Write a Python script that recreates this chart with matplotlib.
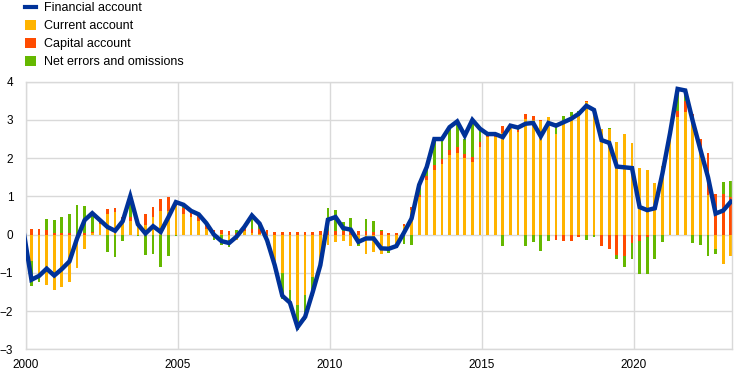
import numpy as np
import matplotlib
matplotlib.use("Agg")
import matplotlib.pyplot as plt
from matplotlib.lines import Line2D
from matplotlib.patches import Patch

plt.rcParams['font.family'] = ['Liberation Sans', 'DejaVu Sans']

# quarterly data, 2000 Q1 - 2023 Q1 (% of GDP)
current_account = [
    -0.70, -1.02, -1.32, -1.45, -1.38, -1.25, -0.87, -0.37, 0.05, 0.27,
    0.55, 0.60, 0.35, 0.35, 0.25, 0.25, 0.45, 0.62, 0.62, 0.75,
    0.55, 0.45, 0.35, 0.15, 0.05, 0.02, -0.15, -0.15, 0.10, 0.03,
    0.02, -0.05, -0.85, -1.00, -1.45, -1.84, -1.58, -1.10, -0.75, -0.28,
    -0.19, -0.17, -0.30, -0.23, -0.50, -0.45, -0.50, -0.40, -0.30, 0.22,
    0.65, 0.98, 1.42, 1.68, 1.85, 2.07, 2.13, 2.00, 1.91, 2.30,
    2.55, 2.55, 2.65, 2.78, 2.68, 3.03, 3.00, 2.98, 3.07, 2.63,
    2.90, 3.10, 3.11, 3.46, 3.30, 2.77, 2.77, 2.43, 2.63, 2.39,
    1.74, 1.68, 1.35, 1.80, 2.65, 3.07, 3.20, 2.90, 2.16, 1.03,
    -0.37, -0.76, -0.56]
capital_account = [
    0.15, 0.14, 0.12, 0.05, 0.05, 0.05, 0.02, 0.03, 0.03, 0.06,
    0.13, 0.10, 0.12, 0.10, 0.05, 0.30, 0.27, 0.32, 0.36, 0.10,
    0.15, 0.15, 0.15, 0.10, 0.08, 0.10, 0.10, 0.03, 0.08, 0.12,
    0.12, 0.12, 0.08, 0.08, 0.08, 0.08, 0.08, 0.08, 0.10, 0.10,
    0.10, 0.10, 0.08, 0.10, 0.10, 0.08, 0.10, 0.05, 0.05, 0.07,
    0.07, 0.05, 0.10, 0.13, 0.13, 0.15, 0.16, 0.12, 0.11, 0.11,
    0.04, 0.05, 0.18, 0.08, 0.06, 0.13, 0.11, 0.02, 0.01, -0.13,
    -0.17, -0.17, -0.06, 0.04, 0.02, -0.30, -0.37, -0.54, -0.57, -0.21,
    -0.17, -0.06, 0.00, 0.00, 0.00, 0.17, 0.30, 0.26, 0.35, 1.10,
    1.05, 1.07, 0.98]
errors_omissions = [
    -0.65, -0.21, 0.30, 0.32, 0.42, 0.48, 0.75, 0.72, 0.48, 0.05,
    -0.45, -0.58, -0.17, 0.55, -0.03, -0.54, -0.52, -0.86, -0.57, -0.04,
    0.08, 0.02, 0.03, 0.05, -0.13, -0.27, -0.17, 0.10, 0.02, 0.35,
    0.15, -0.22, -0.02, -0.68, -0.40, -0.66, -0.65, -0.50, -0.10, 0.60,
    0.55, 0.23, 0.35, -0.06, 0.30, 0.27, 0.03, -0.08, -0.03, -0.25,
    -0.28, 0.27, 0.25, 0.65, 0.48, 0.55, 0.65, 0.37, 0.95, 0.30,
    0.04, 0.03, -0.30, -0.02, 0.06, -0.30, -0.20, -0.43, -0.17, 0.30,
    0.19, 0.10, 0.11, -0.13, -0.05, 0.00, 0.03, -0.11, -0.29, -0.44,
    -0.86, -0.97, -0.65, -0.20, 0.00, 0.52, 0.26, -0.22, -0.28, -0.57,
    -0.15, 0.30, 0.43]
# starts one quarter earlier (1999 Q4), clipped at the left edge
financial_account = [
    0.04,
    -1.18, -1.08, -0.89, -1.07, -0.90, -0.70, -0.10, 0.38, 0.56, 0.38,
    0.20, 0.10, 0.35, 1.00, 0.27, 0.03, 0.22, 0.07, 0.45, 0.85,
    0.78, 0.62, 0.53, 0.30, 0.00, -0.17, -0.22, -0.05, 0.20, 0.50,
    0.29, -0.15, -0.80, -1.60, -1.78, -2.42, -2.15, -1.50, -0.80, 0.39,
    0.46, 0.17, 0.13, -0.19, -0.10, -0.10, -0.36, -0.37, -0.30, 0.05,
    0.42, 1.30, 1.77, 2.50, 2.50, 2.81, 2.96, 2.59, 3.00, 2.77,
    2.63, 2.63, 2.55, 2.85, 2.80, 2.90, 2.92, 2.57, 2.92, 2.85,
    2.94, 3.03, 3.16, 3.37, 3.26, 2.47, 2.40, 1.78, 1.76, 1.74,
    0.72, 0.64, 0.69, 1.60, 2.65, 3.81, 3.77, 2.96, 2.22, 1.50,
    0.55, 0.63, 0.86]

year_ticks = [2000, 2005, 2010, 2015, 2020]

blue = '#003299'
yellow = '#ffb400'
red = '#ff4b00'
green = '#65b800'
grid = '#d9d9d9'

n = len(current_account)
x = 2000.19 + 0.25 * np.arange(n)
x_line = 2000.19 + 0.25 * np.arange(-1, n)

fig = plt.figure(figsize=(7.42, 3.75), dpi=100)
ax = fig.add_axes([0.0346, 0.0685, 0.9524, 0.7137])

pos_bottom = np.zeros(n)
neg_bottom = np.zeros(n)
for vals, col in [(current_account, yellow), (capital_account, red), (errors_omissions, green)]:
    v = np.array(vals)
    bottom = np.where(v >= 0, pos_bottom, neg_bottom)
    ax.bar(x, v, width=0.09, bottom=bottom, color=col, linewidth=0, zorder=2)
    pos_bottom += np.clip(v, 0, None)
    neg_bottom += np.clip(v, None, 0)

ax.plot(x_line, financial_account, color=blue, lw=3.2, solid_joinstyle='miter', zorder=3)

ax.set_xlim(2000, 2023.24)
ax.set_ylim(-3, 4)
ax.set_yticks(range(-3, 5))
ax.set_xticks(year_ticks)
ax.set_xticklabels([str(y) for y in year_ticks])
ax.grid(True, color=grid, lw=1.0, zorder=0)
ax.set_axisbelow(True)
for s in ax.spines.values():
    s.set_color(grid)
    s.set_linewidth(1.0)
ax.tick_params(axis='both', length=0, labelsize=8.5, colors='black')
ax.tick_params(axis='x', pad=7)
ax.tick_params(axis='y', pad=9)

handles = [
    Line2D([0], [0], color=blue, lw=3),
    Patch(color=yellow, linewidth=0),
    Patch(color=red, linewidth=0),
    Patch(color=green, linewidth=0),
]
labels = ['Financial account', 'Current account', 'Capital account', 'Net errors and omissions']
fig.legend(handles, labels, loc='upper left', bbox_to_anchor=(25 / 742, 1 - 2 / 375),
           frameon=False, fontsize=9, handlelength=0.85, handleheight=0.85,
           handletextpad=0.7, labelspacing=0.45, borderpad=0, borderaxespad=0)

fig.savefig('out.png', dpi=100)
